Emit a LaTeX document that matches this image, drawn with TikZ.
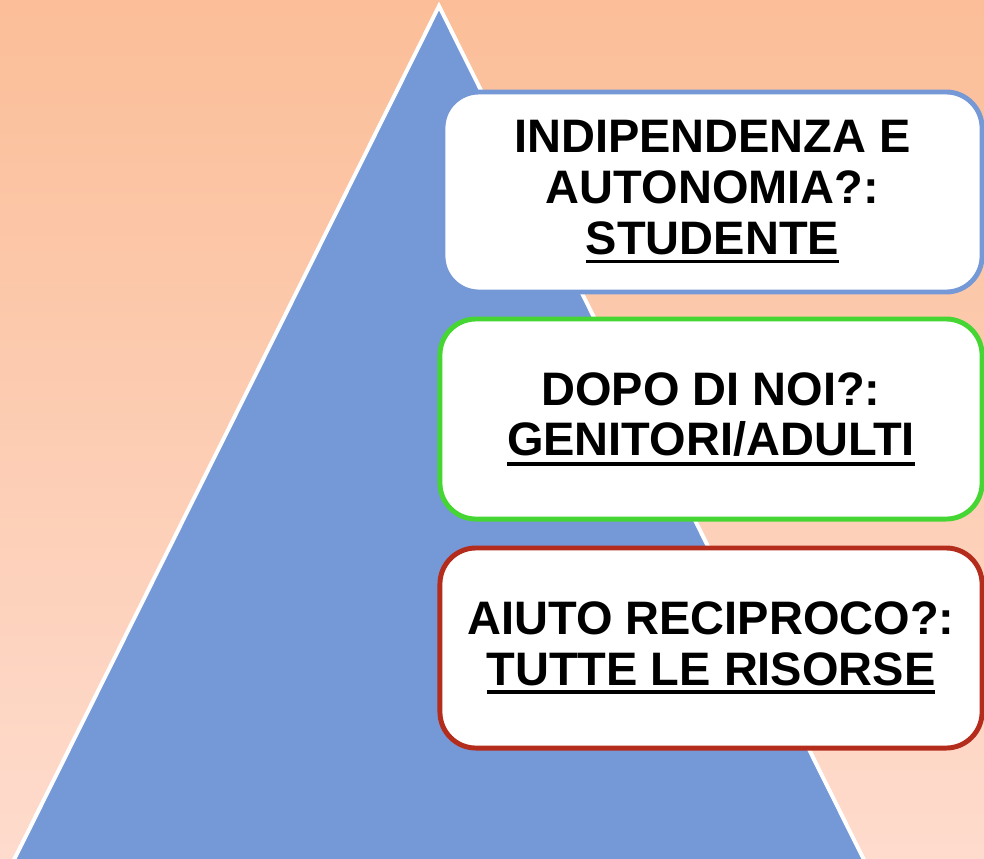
\documentclass[tikz,border=0pt]{standalone}
\usepackage{fontspec}
\setmainfont{Liberation Sans}
\usepackage{xcolor}
\usepackage{tikz}
\definecolor{bgtop}{RGB}{251,190,152}
\definecolor{bgbottom}{RGB}{254,219,205}
\definecolor{pyrblue}{RGB}{117,152,214}
\definecolor{boxgreen}{RGB}{70,214,52}
\definecolor{boxred}{RGB}{180,44,28}
% thick underline below a line of text
\newcommand{\ulined}[1]{\vtop{\hbox{#1}\kern3.5pt\hrule height 2.8pt}}

\begin{document}
\begin{tikzpicture}[x=0.025cm, y=-0.025cm,
  answer/.style={draw, line width=3.5pt, fill=white, rounded corners=0.9cm,
    align=center, inner sep=0pt, minimum height=5cm,
    font=\fontsize{33.4pt}{36pt}\selectfont\bfseries}]

% Canvas
\useasboundingbox (0,0) rectangle (984,858);
\clip (0,0) rectangle (984,858);

% Background
\shade[top color=bgtop, bottom color=bgbottom] (0,0) rectangle (984,858);

% Pyramid (runs off the bottom edge)
\def\apx{439}
\def\apy{6}
\filldraw[fill=pyrblue, draw=white, line width=2.8pt, line join=miter]
(\apx,\apy) -- (-6,900) -- (884,900) -- cycle;

% Boxes on the right side
\node[answer, draw=pyrblue, minimum width=13.475cm] (studente) at (712.5,192)
{INDIPENDENZA E\\AUTONOMIA?:\\\ulined{STUDENTE}};

\node[answer, draw=boxgreen, minimum width=13.55cm] (genitori) at (711,419)
{DOPO DI NOI?:\\\ulined{GENITORI/ADULTI}};

\node[answer, draw=boxred, minimum width=13.55cm] (risorse) at (711,648)
{AIUTO RECIPROCO?:\\\ulined{TUTTE LE RISORSE}};

\end{tikzpicture}
\end{document}
